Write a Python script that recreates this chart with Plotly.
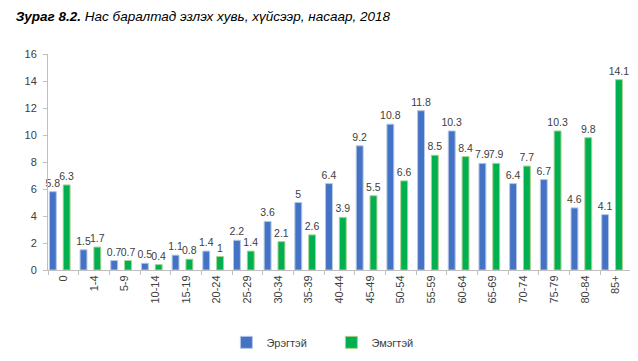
import plotly.graph_objects as go

categories = ["0", "1-4", "5-9", "10-14", "15-19", "20-24", "25-29", "30-34", "35-39",
              "40-44", "45-49", "50-54", "55-59", "60-64", "65-69", "70-74", "75-79",
              "80-84", "85+"]
male = [5.8, 1.5, 0.7, 0.5, 1.1, 1.4, 2.2, 3.6, 5, 6.4, 9.2, 10.8, 11.8, 10.3, 7.9, 6.4, 6.7, 4.6, 4.1]
female = [6.3, 1.7, 0.7, 0.4, 0.8, 1, 1.4, 2.1, 2.6, 3.9, 5.5, 6.6, 8.5, 8.4, 7.9, 7.7, 10.3, 9.8, 14.1]
y_ticks = [0, 2, 4, 6, 8, 10, 12, 14, 16]

FONT = "Liberation Sans, Arial, sans-serif"

fig = go.Figure()
fig.add_trace(go.Bar(
    x=categories, y=male, name="Эрэгтэй",
    offset=-0.455, width=0.225,
    marker=dict(color="#4472C4", line=dict(color="#B4C7E7", width=1)),
    text=[str(v) for v in male], textposition="outside", cliponaxis=False,
    constraintext="none",
    textfont=dict(size=10.5, color="#404040", family=FONT),
))
fig.add_trace(go.Bar(
    x=categories, y=female, name="Эмэгтэй",
    offset=-0.005, width=0.225,
    marker=dict(color="#00B050", line=dict(color="#A9D18E", width=1)),
    text=[str(v) for v in female], textposition="outside", cliponaxis=False,
    constraintext="none",
    textfont=dict(size=10.5, color="#404040", family=FONT),
))

fig.update_layout(
    width=638, height=361,
    margin=dict(l=40, r=15, t=46, b=89),
    paper_bgcolor="white", plot_bgcolor="white",
    barmode="overlay",
    font=dict(family=FONT, size=11, color="#404040"),
    title=dict(
        text="<b><i>Зураг 8.2.</i></b><i> Нас баралтад эзлэх хувь, хүйсээр, насаар, 2018</i>",
        x=0.012, xanchor="left", y=0.977, yanchor="middle",
        font=dict(family=FONT, size=13.5, color="#000000"),
    ),
    legend=dict(
        orientation="h", x=0.306, xanchor="left", y=-0.335, yanchor="middle",
        font=dict(family=FONT, size=11, color="#404040"),
        entrywidth=60, itemwidth=30,
    ),
    uniformtext=dict(mode=False),
)
fig.update_xaxes(
    type="category", tickangle=-90, showline=True, linecolor="#BFBFBF", linewidth=1,
    ticks="outside", tickson="boundaries", ticklen=4, tickcolor="#BFBFBF",
    showgrid=False, tickfont=dict(size=11, color="#404040"),
)
fig.update_yaxes(
    range=[0, 16], tickvals=y_ticks, showline=True, linecolor="#BFBFBF", linewidth=1,
    ticks="outside", ticklen=4, tickcolor="#BFBFBF", showgrid=False, zeroline=False,
    ticklabelstandoff=4,
    tickfont=dict(size=11, color="#404040"),
)

fig.write_html("out.html")
